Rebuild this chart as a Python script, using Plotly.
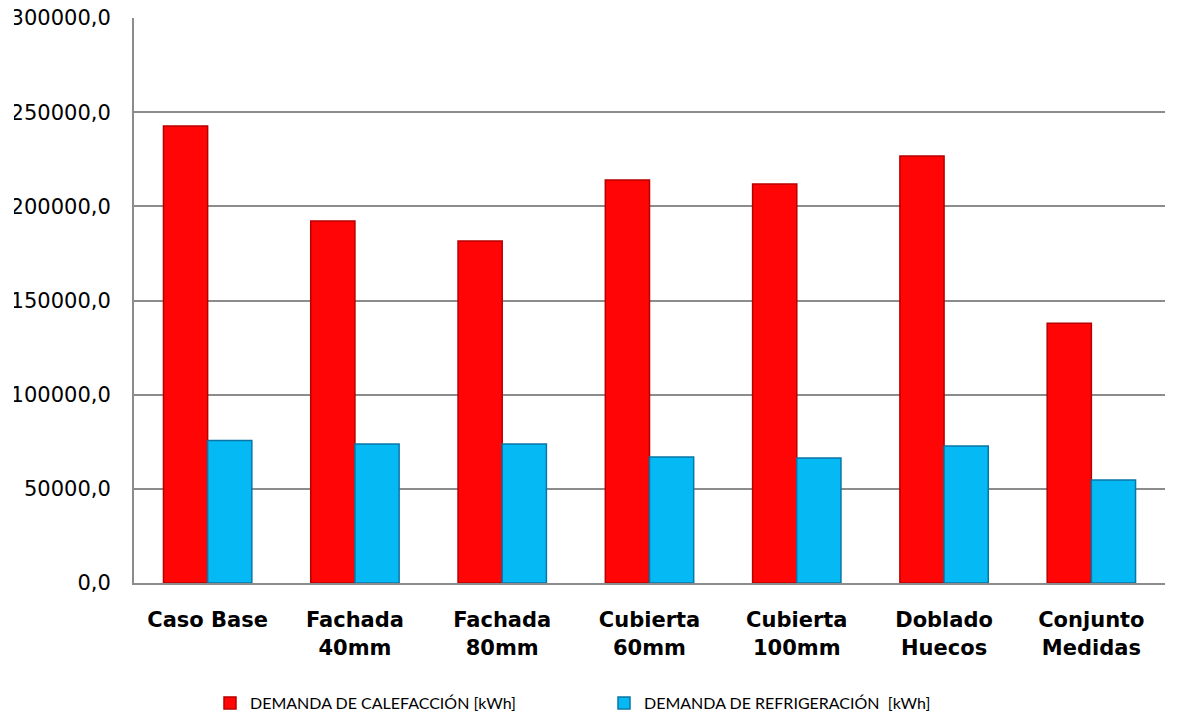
import plotly.graph_objects as go

# Escenarios analizados
categorias = [
    "Caso Base",
    "Fachada<br>40mm",
    "Fachada<br>80mm",
    "Cubierta<br>60mm",
    "Cubierta<br>100mm",
    "Doblado<br>Huecos",
    "Conjunto<br>Medidas",
]

# Demandas anuales [kWh]
calefaccion = [242600, 192200, 181600, 214000, 211900, 226700, 137900]
refrigeracion = [75600, 73800, 73800, 66900, 66400, 72700, 54700]

nombre_cal = "DEMANDA DE CALEFACCIÓN [kWh]"
nombre_ref = "DEMANDA DE REFRIGERACIÓN \u00a0[kWh]"

fig = go.Figure()
fig.add_trace(go.Bar(
    x=categorias, y=calefaccion, name=nombre_cal,
    marker=dict(color="#FF0505", line=dict(color="#B80000", width=1.5)),
))
fig.add_trace(go.Bar(
    x=categorias, y=refrigeracion, name=nombre_ref,
    marker=dict(color="#05B9F5", line=dict(color="#0A76A6", width=1.5)),
))

# El área del gráfico recorta el borde izquierdo de las etiquetas del eje Y
fig.add_shape(
    type="rect", xref="paper", yref="paper", layer="above",
    x0=-134 / 1031, x1=-120 / 1031, y0=-0.1, y1=1.1,
    fillcolor="white", line=dict(width=0),
)

fig.update_layout(
    width=1183, height=715,
    margin=dict(l=134, r=18, t=18, b=132, autoexpand=False),
    paper_bgcolor="white", plot_bgcolor="white",
    barmode="group", bargap=0.4, bargroupgap=0,
    separators=",.",
    showlegend=True,
    legend=dict(
        orientation="h", xref="container", x=210 / 1183, xanchor="left",
        yref="container", y=12 / 715, yanchor="middle",
        font=dict(family="Lato", size=16, color="#000000"),
        entrywidth=349, traceorder="normal",
        itemwidth=30,
    ),
    font=dict(family="DejaVu Sans", color="#000000"),
)

fig.update_yaxes(
    range=[0, 300000], dtick=50000, tickformat=".1f",
    showgrid=True, gridcolor="#8C8C8C", gridwidth=1.5,
    showline=True, linecolor="#8C8C8C", linewidth=2,
    ticks="", ticklabelstandoff=17, automargin=False,
    tickfont=dict(family="DejaVu Sans", size=21, color="#000000"),
    zeroline=False,
)
fig.update_xaxes(
    showline=True, linecolor="#8C8C8C", linewidth=2,
    ticks="", ticklabelstandoff=17, automargin=False,
    tickfont=dict(family="DejaVu Sans", size=21, color="#000000", weight="bold"),
)

fig.write_html("out.html")
